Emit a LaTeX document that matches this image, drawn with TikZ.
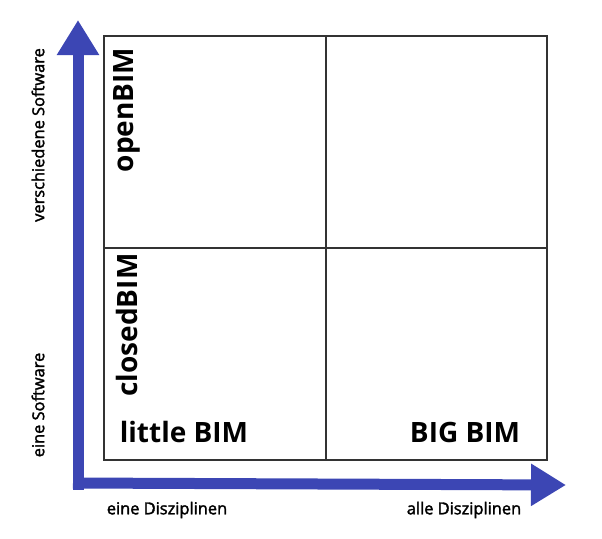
\documentclass[tikz,border=0pt]{standalone}
\usepackage{fontspec}
\setmainfont{Open Sans}
\newfontfamily\semifont[FakeBold=2]{Open Sans}
\usetikzlibrary{arrows.meta}
\definecolor{axisblue}{RGB}{60,70,180}
\begin{document}
\begin{tikzpicture}[x=1pt,y=-1pt,
  grid/.style={draw=black!80,line width=1.2pt},
  axis/.style={draw=axisblue,line width=11pt,-{Triangle[length=35pt,width=40pt]}},
  axislabel/.style={font=\semifont\fontsize{16.4}{19}\selectfont,inner sep=0pt},
  quadlabel/.style={font=\fontsize{28}{32}\selectfont\bfseries,inner sep=0pt}]
\useasboundingbox (0,0) rectangle (602,538);
\draw[grid] (104,36) rectangle (547,460);
\draw[grid] (326,36) -- (326,460);
\draw[grid] (104,248) -- (547,248);
\coordinate (o) at (73,484);
\coordinate (top) at (78,20);
\coordinate (right) at (566,485);
\draw[axis] (78,489.5) -- (top);
\draw[axis] (73,483) -- (right);
\node[axislabel,rotate=90] (vs) at (38,135) {verschiedene Software};
\node[axislabel,rotate=90] (es) at (38,405) {eine Software};
\node[axislabel] (ed) at (167,510) {eine Disziplinen};
\node[axislabel] (ad) at (464,510) {alle Disziplinen};
\node[quadlabel,rotate=90] (ob) at (127,110) {openBIM};
\node[quadlabel,rotate=90] (cb) at (127,325) {closedBIM};
\node[quadlabel] (lb) at (184,432) {little BIM};
\node[quadlabel] (bb) at (465,432) {BIG BIM};
\end{tikzpicture}
\end{document}
